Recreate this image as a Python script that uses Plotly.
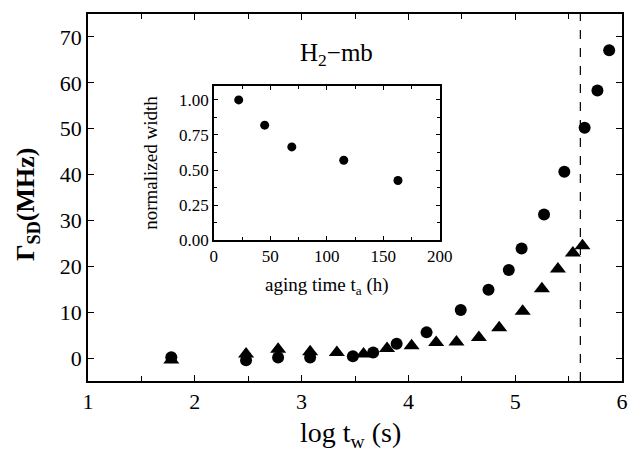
import plotly.graph_objects as go

# Main panel data: log t_w vs Gamma_SD (MHz)
circle_logtw = [1.78, 2.48, 2.78, 3.08, 3.48, 3.67, 3.89, 4.17, 4.49, 4.75, 4.94, 5.06, 5.27, 5.46, 5.65, 5.77, 5.88]
circle_gamma = [0.2, -0.5, 0.1, 0.1, 0.4, 1.2, 3.1, 5.6, 10.5, 14.9, 19.2, 23.9, 31.3, 40.6, 50.2, 58.3, 67.1]

triangle_logtw = [1.78, 2.48, 2.78, 3.08, 3.33, 3.58, 3.80, 4.03, 4.26, 4.45, 4.66, 4.85, 5.07, 5.25, 5.40, 5.54, 5.63]
triangle_gamma = [-0.4, 0.9, 1.9, 1.4, 1.2, 0.9, 2.1, 2.7, 3.4, 3.5, 4.5, 6.6, 10.2, 15.1, 19.4, 22.9, 24.5]

# Inset data: aging time vs normalized width
aging_time = [22, 45, 69, 115, 163]
norm_width = [1.00, 0.82, 0.665, 0.57, 0.425]

dashed_logtw = 5.61

FONT = "Liberation Serif, Times New Roman, serif"

fig = go.Figure()
fig.add_trace(go.Scatter(x=triangle_logtw, y=triangle_gamma, mode="markers",
                         marker=dict(symbol="triangle-up", size=14, color="black"),
                         showlegend=False, xaxis="x", yaxis="y"))
fig.add_trace(go.Scatter(x=circle_logtw, y=circle_gamma, mode="markers",
                         marker=dict(symbol="circle", size=12, color="black"),
                         showlegend=False, xaxis="x", yaxis="y"))
fig.add_trace(go.Scatter(x=aging_time, y=norm_width, mode="markers",
                         marker=dict(symbol="circle", size=9, color="black"),
                         showlegend=False, xaxis="x2", yaxis="y2"))

axis_common = dict(showline=True, linecolor="black", linewidth=1.5, mirror="ticks",
                   ticks="inside", tickcolor="black", showgrid=False, zeroline=False)

fig.update_layout(
    width=631, height=443,
    margin=dict(l=80, r=8, t=4, b=70),
    paper_bgcolor="white", plot_bgcolor="white",
    font=dict(family=FONT, color="black"),
    xaxis=dict(**axis_common, range=[1, 6], dtick=1, ticklen=6, tickwidth=1.2,
               minor=dict(dtick=0.5, ticks="inside", ticklen=5, tickcolor="black"),
               tickfont=dict(size=22), domain=[0, 1]),
    yaxis=dict(**axis_common, range=[-5, 75], tickvals=[0, 10, 20, 30, 40, 50, 60, 70],
               ticklen=6, tickwidth=1.2, tickfont=dict(size=22), domain=[0, 1]),
    xaxis2=dict(**axis_common, range=[0, 200], dtick=50, ticklen=4, tickwidth=1,
                minor=dict(dtick=25, ticks="inside", ticklen=3, tickcolor="black"),
                tickfont=dict(size=17), anchor="y2",
                domain=[0.2357, 0.6587],
                title=dict(text="aging time t<sub>a</sub> (h)", font=dict(size=19), standoff=12)),
    yaxis2=dict(**axis_common, range=[0, 1.1], tickvals=[0, 0.25, 0.5, 0.75, 1.0],
                ticktext=["0.00", "0.25", "0.50", "0.75", "1.00"], ticklen=4, tickwidth=1,
                minor=dict(dtick=0.125, ticks="inside", ticklen=3, tickcolor="black"),
                tickfont=dict(size=17), anchor="x2",
                domain=[0.384, 0.804],
                title=dict(text="normalized width", font=dict(size=19), standoff=16)),
)

fig.add_shape(type="line", xref="x", yref="paper", x0=dashed_logtw, x1=dashed_logtw,
              y0=0, y1=1, line=dict(color="black", width=1.2, dash="dash"))

fig.add_annotation(text="H<sub>2</sub>−mb", xref="paper", yref="paper", x=0.466, y=0.889,
                   showarrow=False, font=dict(size=25), xanchor="center", yanchor="middle")
fig.add_annotation(text="log t<sub>w</sub> (s)", xref="paper", yref="paper", x=0.492, y=-0.146,
                   showarrow=False, font=dict(size=28), xanchor="center", yanchor="middle")
fig.add_annotation(text="<b>Γ<sub>SD</sub>(MHz)</b>", xref="paper", yref="paper", x=-0.114, y=0.48,
                   showarrow=False, font=dict(size=26), textangle=-90,
                   xanchor="center", yanchor="middle")

fig.write_html("out.html")
